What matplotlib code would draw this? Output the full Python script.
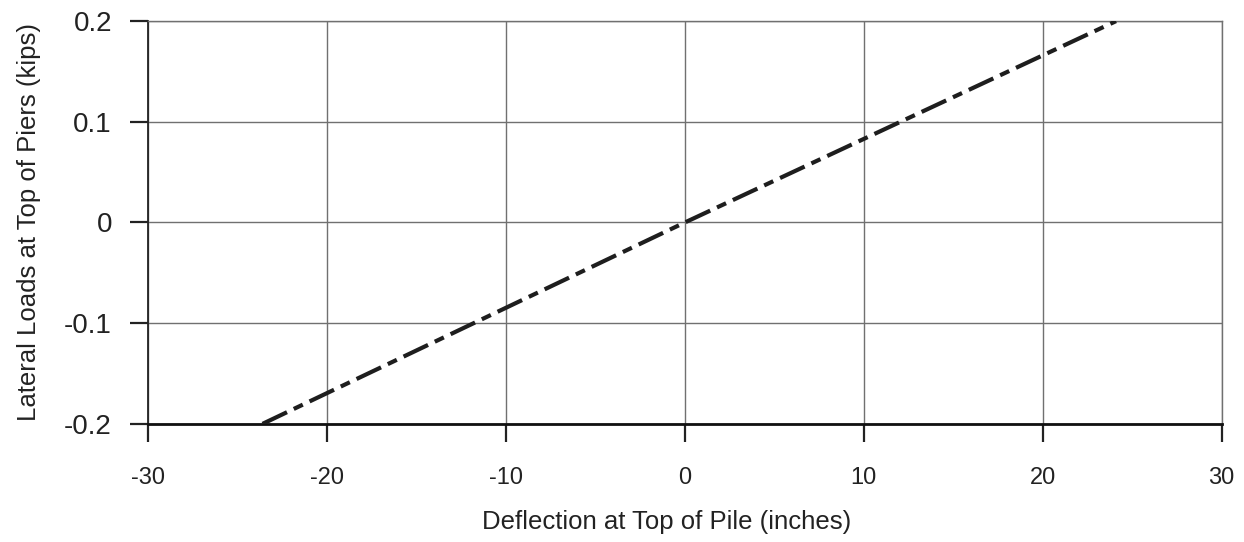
import matplotlib.pyplot as plt

plt.rcParams['font.family'] = ['Liberation Sans', 'DejaVu Sans']
plt.rcParams['axes.unicode_minus'] = False

# Deflection vs lateral load
deflection = [-23.6, 0, 24.1]
load = [-0.2, 0, 0.2]
x_ticks = [-30, -20, -10, 0, 10, 20, 30]
y_ticks = [-0.2, -0.1, 0, 0.1, 0.2]
y_tick_labels = ['-0.2', '-0.1', '0', '0.1', '0.2']

fig = plt.figure(figsize=(12.44, 5.42), dpi=100)
ax = fig.add_axes([0.119, 0.218, 0.863, 0.743])

ax.plot(deflection, load, color='#1e1e1e', linewidth=3,
        linestyle=(0, (6.5, 1.8, 2.4, 1.8)), dash_capstyle='butt', zorder=3)

ax.set_xlim(-30, 30)
ax.set_ylim(-0.2, 0.2)
ax.set_xticks(x_ticks)
ax.set_yticks(y_ticks)
ax.set_yticklabels(y_tick_labels)

ax.grid(True, color='#707070', linewidth=1)
for side in ['top', 'right']:
    ax.spines[side].set_color('#707070')
    ax.spines[side].set_linewidth(1)
ax.spines['left'].set_color('#222222')
ax.spines['left'].set_linewidth(1.3)
ax.spines['bottom'].set_color('#111111')
ax.spines['bottom'].set_linewidth(2)

ax.tick_params(axis='y', direction='out', length=13, width=1.6, pad=13,
               labelsize=20, colors='#222222')
ax.tick_params(axis='x', direction='out', length=13, width=1.6, pad=18,
               labelsize=17, colors='#222222')

ax.set_xlabel('Deflection at Top of Pile (inches)', fontsize=18.5, color='#222222')
ax.set_ylabel('Lateral Loads at Top of Piers (kips)', fontsize=18.5, color='#222222')
ax.xaxis.set_label_coords(0.483, -0.215)
ax.yaxis.set_label_coords(-0.1, 0.5)

fig.savefig('out.png', dpi=100)
